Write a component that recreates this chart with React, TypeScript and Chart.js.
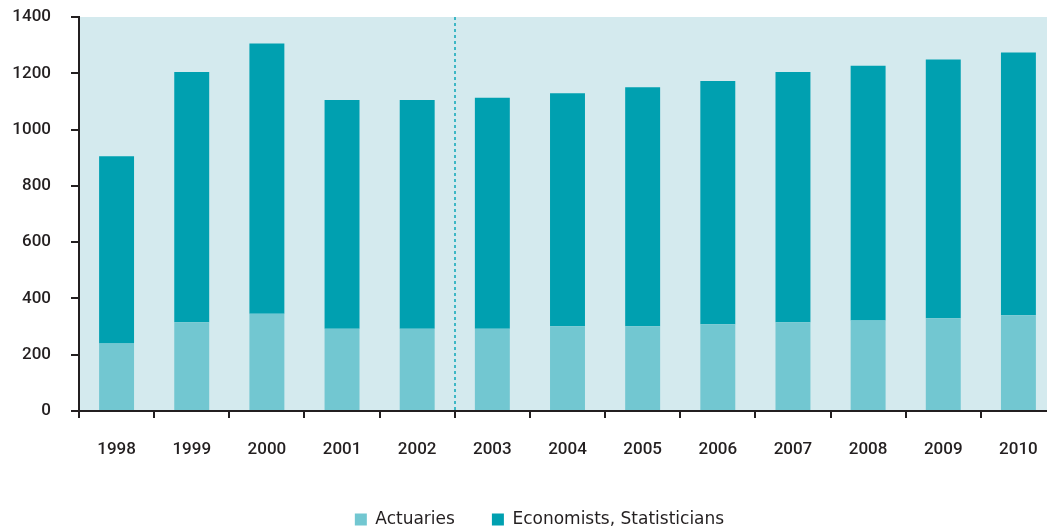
import React, { useEffect, useRef } from "react";
import { Chart, registerables } from "chart.js";

Chart.register(...registerables);

const years = ["1998", "1999", "2000", "2001", "2002", "2003", "2004", "2005", "2006", "2007", "2008", "2009", "2010"];
const actuaries = [240, 315, 346, 292, 292, 292, 301, 301, 308, 315, 322, 330, 340];
const economists = [665, 890, 960, 813, 813, 821, 828, 849, 865, 890, 905, 919, 934];
const yTicks = [0, 200, 400, 600, 800, 1000, 1200, 1400];
const seriesNames = ["Actuaries", "Economists, Statisticians"];
const dividerAfterIndex = 4; // dashed line between 2002 and 2003

const INK = "#231f20";
const FONT = "Roboto";
const LEGEND_FONT = "'DejaVu Sans'";
const LEGEND_SHIFT = 11.5;

const plotBg = {
  id: "plotBg",
  beforeDraw(chart: any) {
    const { ctx, chartArea } = chart;
    ctx.save();
    ctx.fillStyle = "#d4eaee";
    ctx.fillRect(chartArea.left, chartArea.top, chartArea.right - chartArea.left, chartArea.bottom - chartArea.top);
    ctx.restore();
  },
};

const legendShift = {
  id: "legendShift",
  afterLayout(chart: any) {
    if (chart.legend) {
      chart.legend.left += LEGEND_SHIFT;
      chart.legend.right += LEGEND_SHIFT;
    }
  },
};

const divider = {
  id: "divider",
  afterDatasetsDraw(chart: any) {
    const { ctx, chartArea, scales } = chart;
    const x = (scales.x.getPixelForValue(dividerAfterIndex) + scales.x.getPixelForValue(dividerAfterIndex + 1)) / 2;
    ctx.save();
    ctx.strokeStyle = "#3db7c5";
    ctx.lineWidth = 2;
    ctx.setLineDash([3, 3]);
    ctx.beginPath();
    ctx.moveTo(Math.round(x), chartArea.top);
    ctx.lineTo(Math.round(x), chartArea.bottom);
    ctx.stroke();
    ctx.restore();
  },
};

export default function App() {
  const ref = useRef<HTMLCanvasElement>(null);

  useEffect(() => {
    if (!ref.current) return;
    const chart = new Chart(ref.current, {
      type: "bar",
      data: {
        labels: years,
        datasets: [
          {
            label: seriesNames[0],
            data: actuaries,
            backgroundColor: "#72c7d1",
            categoryPercentage: 1,
            barPercentage: 0.465,
          },
          {
            label: seriesNames[1],
            data: economists,
            backgroundColor: "#00a0b0",
            categoryPercentage: 1,
            barPercentage: 0.465,
          },
        ],
      },
      options: {
        animation: false,
        responsive: false,
        maintainAspectRatio: false,
        layout: { padding: { left: 0, right: 23, top: 17, bottom: 0 } },
        plugins: {
          tooltip: { enabled: false },
          legend: {
            position: "bottom",
            labels: {
              boxWidth: 12,
              boxHeight: 12,
              padding: 37,
              color: INK,
              font: { family: LEGEND_FONT, size: 17 },
            },
          },
        },
        scales: {
          x: {
            stacked: true,
            border: { display: true, color: INK, width: 2 },
            grid: { display: true, drawOnChartArea: false, drawTicks: true, tickLength: 7, color: INK, lineWidth: 2, offset: true },
            ticks: { color: INK, padding: 22, font: { family: FONT, size: 17, weight: "500" }, maxRotation: 0 },
            afterFit: (s: any) => {
              s.height = 63;
            },
          },
          y: {
            stacked: true,
            min: 0,
            max: 1400,
            afterBuildTicks: (s: any) => {
              s.ticks = yTicks.map((v) => ({ value: v }));
            },
            border: { display: true, color: INK, width: 2 },
            grid: { display: true, drawOnChartArea: false, drawTicks: true, tickLength: 8, color: INK, lineWidth: 2 },
            ticks: {
              color: INK,
              padding: 20,
              font: { family: FONT, size: 17, weight: "500" },
              callback: (v: any) => String(v),
            },
            afterFit: (s: any) => {
              s.width = 79;
              s.paddingTop = 0;
              s.paddingBottom = 0;
            },
          },
        },
      },
      plugins: [plotBg, legendShift, divider],
    });
    return () => chart.destroy();
  }, []);

  return (
    <div style={{ position: "absolute", left: 0, top: 0, width: 1047, height: 528, overflow: "hidden", background: "#fff" }}>
      <canvas ref={ref} width={1079} height={538} style={{ width: 1079, height: 538, display: "block" }} />
    </div>
  );
}
